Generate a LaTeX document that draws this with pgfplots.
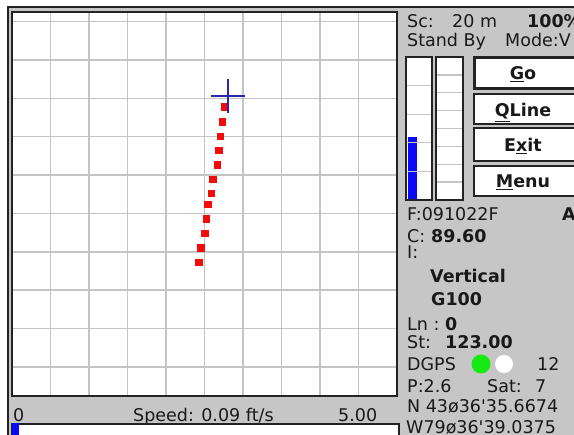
\documentclass[border=0pt]{standalone}
\usepackage{pgfplots}
\pgfplotsset{compat=1.18}
\usepackage{fontspec}
\setmainfont{DejaVu Sans}[Ligatures=TeXOff]
\definecolor{panel}{RGB}{198,198,198}
\definecolor{gridc}{RGB}{196,196,196}
\definecolor{edge}{RGB}{35,35,35}
\definecolor{textc}{RGB}{25,25,25}
\definecolor{crossblue}{RGB}{40,40,175}
\definecolor{ledgreen}{RGB}{20,235,20}
\definecolor{pureblue}{RGB}{10,10,250}
\definecolor{dotred}{RGB}{245,10,10}
\begin{document}
\begin{tikzpicture}[x=1pt,y=1pt,
  t/.style={anchor=base west, inner sep=0pt, text=textc, font=\fontsize{17.5}{20}\selectfont},
  tb/.style={anchor=base west, inner sep=0pt, text=textc, font=\bfseries\fontsize{17.5}{20}\selectfont},
  btn/.style={anchor=base, inner sep=0pt, text=textc, font=\bfseries\fontsize{17.5}{20}\selectfont}]
\path[use as bounding box] (0,0) rectangle (574,435);
\clip (0,0) rectangle (574,435);
\fill[white] (0,0) rectangle (574,435);
\fill[panel] (8,0) rectangle (574,428);
\draw[edge, line width=2pt] (8,0) -- (8,428) -- (574,428);

% ---- main track plot ----
\begin{axis}[at={(12pt,39pt)}, anchor=south west, scale only axis,
  width=385pt, height=384pt,
  xmin=-1, xmax=9, ymin=-0.76, ymax=9.25,
  xtick={0,...,8}, ytick={0,...,9},
  xticklabels={}, yticklabels={},
  tick style={draw=none},
  grid=major, major grid style={draw=gridc, line width=1.6pt},
  axis line style={draw=edge, line width=2pt},
  axis background/.style={fill=white}]
\addplot[only marks, mark=square*, mark size=3.3pt, color=dotred] coordinates {
  (4.519,6.781) (4.459,6.390) (4.407,6.017) (4.363,5.652)
  (4.329,5.269) (4.215,4.896) (4.174,4.523) (4.086,4.236)
  (4.044,3.860) (4.000,3.479) (3.896,3.104) (3.852,2.723)};
\addplot[only marks, mark=+, mark size=17pt, mark options={line width=2pt}, color=crossblue]
  coordinates {(4.622,7.061)};
\end{axis}

% ---- level bar 1 ----
\begin{axis}[at={(406pt,235pt)}, anchor=south west, scale only axis,
  width=26pt, height=143pt, xmin=0, xmax=1, ymin=0, ymax=5,
  xtick=\empty, ytick={1,2,3,4}, yticklabels={}, tick style={draw=none},
  ymajorgrids, major grid style={draw=gridc, line width=1.3pt},
  axis line style={draw=edge, line width=2pt}, axis on top,
  axis background/.style={fill=white}]
\addplot[ybar, bar width=9pt, bar shift=0pt, fill=pureblue, draw=none] coordinates {(0.25,2.2)};
\end{axis}
% ---- level bar 2 ----
\begin{axis}[at={(436pt,235pt)}, anchor=south west, scale only axis,
  width=27pt, height=143pt, xmin=0, xmax=1, ymin=0, ymax=8,
  xtick=\empty, ytick={1,...,7}, yticklabels={}, tick style={draw=none},
  ymajorgrids, major grid style={draw=gridc, line width=1.3pt},
  axis line style={draw=edge, line width=2pt}, axis on top,
  axis background/.style={fill=white}]
\addplot[ybar, bar width=9pt, bar shift=0pt, fill=pureblue, draw=none] coordinates {(0.25,0)};
\end{axis}

% ---- buttons ----
\draw[fill=white, draw=edge, line width=3pt] (474.5,346.5) rectangle (600,377.5);
\draw[fill=white, draw=edge, line width=2pt] (474,311) rectangle (600,341);
\draw[fill=white, draw=edge, line width=2pt] (474,274) rectangle (600,307);
\draw[fill=white, draw=edge, line width=2pt] (474,239) rectangle (600,269);
\node[btn] at (523,355) {\underline{G}o};
\node[btn] at (523,318) {\underline{Q}Line};
\node[btn] at (523,283) {E\underline{x}it};
\node[btn] at (523,247) {\underline{M}enu};

% ---- status texts ----
\node[t] at (407,407) {Sc:};
\node[t] at (452,407) {20 m};
\node[tb] at (527,407) {100\%};
\node[t] at (407,388) {Stand By};
\node[t] at (505,388) {Mode:V};
\node[t] at (407,214) {F:091022F};
\node[tb] at (562,214) {A};
\node[t] at (407,192) {C:};
\node[tb] at (431,192) {89.60};
\node[t] at (407,176) {I:};
\node[tb] at (430,152) {Vertical};
\node[tb] at (431,129) {G100};
\node[t] at (407,104) {Ln :};
\node[tb] at (445,104) {0};
\node[t] at (407,86) {St:};
\node[tb] at (445,86) {123.00};
\node[t] at (407,64) {DGPS};
\fill[ledgreen] (481,71) circle (9.5);
\fill[white] (504,71) circle (9);
\node[t] at (537,64) {12};
\node[t] at (407,42) {P:2.6};
\node[t] at (487,42) {Sat:};
\node[t] at (535,42) {7};
\node[t] at (407,22) {N 43ø36'35.6674};
\node[t] at (406,1) {W79ø36'39.0375};

% ---- speed strip ----
\node[t] at (13,13) {0};
\node[t] at (133,13) {Speed: 0.09 ft/s};
\node[t] at (338,13) {5.00};

% ---- speed bar ----
\begin{axis}[at={(12pt,-6pt)}, anchor=south west, scale only axis,
  width=387pt, height=17pt, xmin=0, xmax=5, ymin=0, ymax=1,
  xtick=\empty, ytick=\empty,
  axis line style={draw=edge, line width=2pt},
  axis background/.style={fill=white}]
\addplot[xbar, bar width=30pt, bar shift=0pt, fill=pureblue, draw=none] coordinates {(0.09,0.5)};
\end{axis}
\end{tikzpicture}
\end{document}
